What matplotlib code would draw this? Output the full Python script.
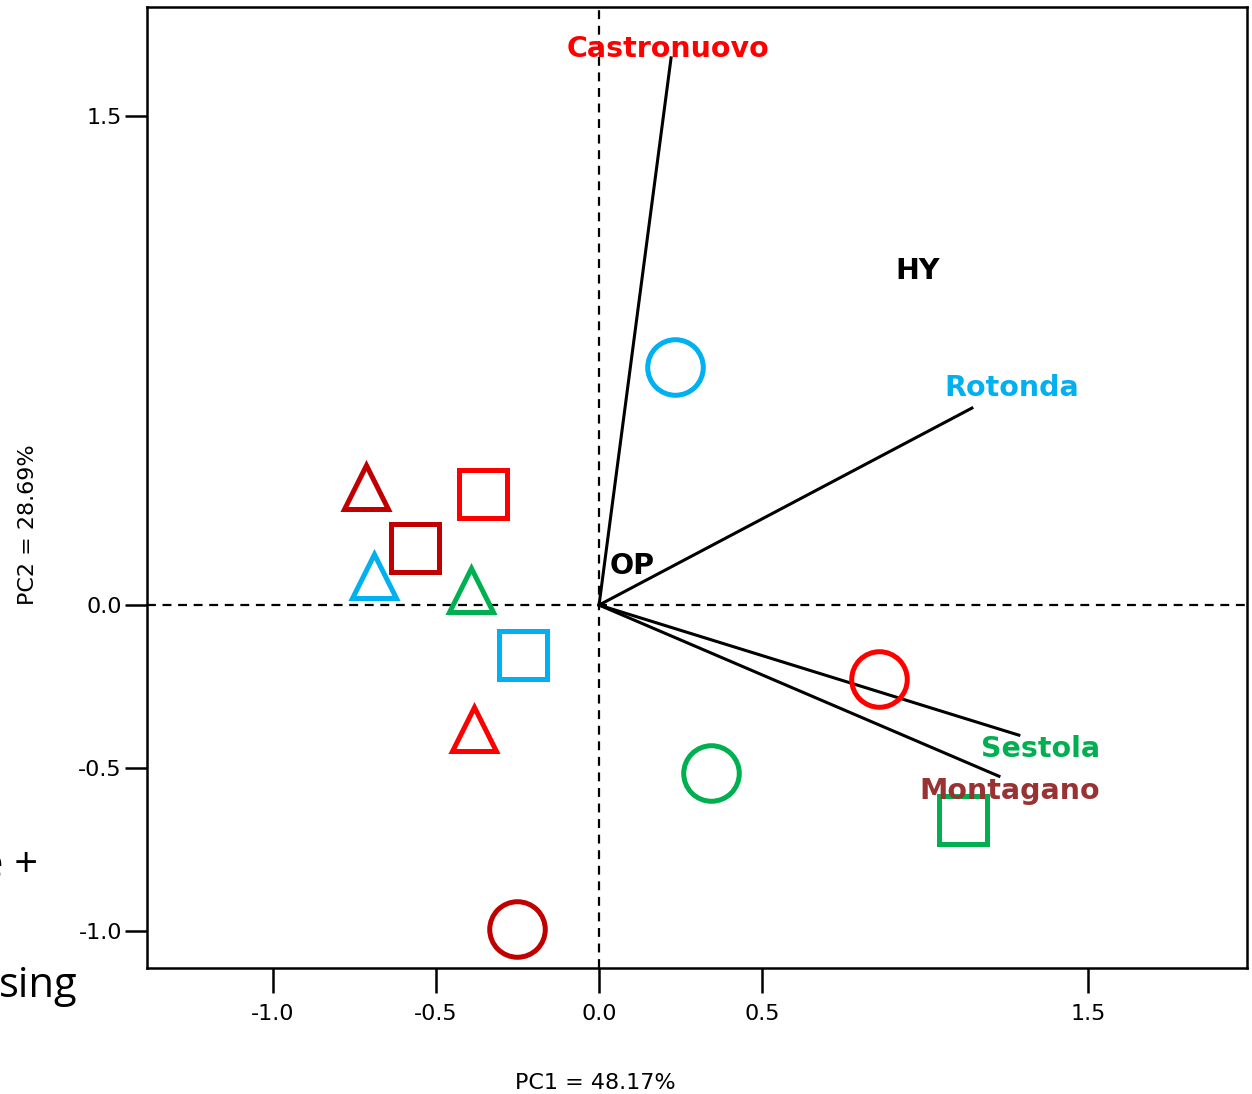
import matplotlib

matplotlib.use("Agg")
import matplotlib.pyplot as plt

# sample scores (PC1, PC2)
marker_x = [0.233, -0.356, -0.715, -0.564, -0.690, -0.393, -0.233, -0.383, 0.859, 0.344, 1.117, -0.252]
marker_y = [0.730, 0.340, 0.362, 0.175, 0.089, 0.046, -0.153, -0.380, -0.227, -0.515, -0.660, -0.994]
marker_shape = ["o", "s", "^", "s", "^", "^", "s", "^", "o", "o", "s", "o"]
marker_color = ["#00B0F0", "#FF0000", "#C00000", "#C00000", "#00B0F0", "#00B050",
                "#00B0F0", "#FF0000", "#FF0000", "#00B050", "#00B050", "#C00000"]

# loading vectors
vec_names = ["Castronuovo", "Rotonda", "Sestola", "Montagano"]
vec_x = [0.221, 1.144, 1.288, 1.227]
vec_y = [1.678, 0.604, -0.399, -0.525]
vec_colors = ["#FF0000", "#00B0F0", "#00B050", "#993333"]
label_x = [0.212, 1.267, 1.355, 1.26]
label_y = [1.705, 0.665, -0.44, -0.57]

fig = plt.figure(figsize=(12.52, 10.94), dpi=100)
ax = fig.add_axes([0.1174, 0.1152, 0.8786, 0.8784])
ax.set_xlim(-1.387, 1.988)
ax.set_ylim(-1.113, 1.834)

ax.axhline(0, color="black", ls=(0, (4, 3)), lw=1.6, zorder=1)
ax.axvline(0, color="black", ls=(0, (4, 3)), lw=1.6, zorder=1)

for x, y in zip(vec_x, vec_y):
    ax.plot([0, x], [0, y], color="black", lw=2.2, zorder=2)

sizes = {"o": 40, "s": 34, "^": 32}
for x, y, m, c in zip(marker_x, marker_y, marker_shape, marker_color):
    ax.plot(x, y, marker=m, ms=sizes[m], mfc="none", mec=c, mew=3.6, zorder=3)

for name, x, y, c in zip(vec_names, label_x, label_y, vec_colors):
    ax.text(x, y, name, color=c, fontsize=20.5, fontweight="bold", ha="center", va="center", zorder=4)
ax.text(0.976, 1.025, "HY", fontsize=20.5, fontweight="bold", ha="center", va="center")
ax.text(0.1, 0.12, "OP", fontsize=20.5, fontweight="bold", ha="center", va="center")

ax.set_xticks([-1.0, -0.5, 0.0, 0.5, 1.5])
ax.set_xticklabels(["-1.0", "-0.5", "0.0", "0.5", "1.5"])
ax.set_yticks([-1.0, -0.5, 0.0, 1.5])
ax.set_yticklabels(["-1.0", "-0.5", "0.0", "1.5"])
ax.tick_params(axis="x", direction="out", length=18, width=1.8, labelsize=16, pad=8)
ax.tick_params(axis="y", direction="out", length=16, width=1.8, labelsize=16, pad=2)
for s in ax.spines.values():
    s.set_linewidth(1.8)

fig.text(595 / 1252, 1 - 1083 / 1094, "PC1 = 48.17%", fontsize=16, ha="center", va="center")
fig.text(28 / 1252, 1 - 525 / 1094, "PC2 = 28.69%", fontsize=16, ha="center", va="center",
         rotation=90)

# fragments of neighbouring text, clipped at the left edge in the source figure
fig.text(38 / 1252, 1 - 866 / 1094, "e +", fontsize=30, family="Open Sans", ha="right", va="center")
fig.text(78 / 1252, 1 - 997 / 1094, "sing", fontsize=30, family="Open Sans", ha="right",
         va="baseline")

fig.savefig("out.png", dpi=100)
